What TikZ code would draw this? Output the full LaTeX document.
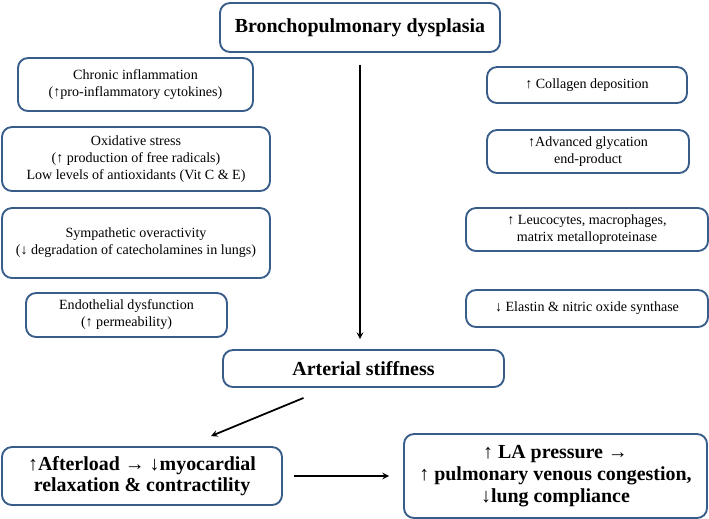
\documentclass[tikz,border=0pt]{standalone}
\usepackage{fontspec}
\setmainfont{Liberation Serif}
\usetikzlibrary{arrows}
\definecolor{boxblue}{RGB}{56,93,138}
\tikzstyle{factor} = [rectangle, rounded corners=0.3cm, line width=1.6pt, text centered, align=center, draw=boxblue, fill=white, font=\fontsize{12}{14.5}\selectfont]
\tikzstyle{mainbox} = [rectangle, rounded corners=0.3cm, line width=1.6pt, text centered, align=center, draw=boxblue, fill=white, font=\fontsize{17}{18.5}\selectfont\bfseries]
\tikzstyle{arrow} = [line width=1.5pt,->,>=stealth]

\begin{document}
\begin{tikzpicture}[x=0.03cm, y=-0.03cm]
\useasboundingbox (0,0) rectangle (709,518);

\node (bpd) [mainbox, minimum width=8.4cm, minimum height=1.47cm] at (360,27.5) {Bronchopulmonary dysplasia};

\node (inflam) [factor, minimum width=7.05cm, minimum height=1.59cm] at (135.5,84.5) {Chronic inflammation\\(↑pro-inflammatory cytokines)};
\node (oxid) [factor, minimum width=8.04cm, minimum height=1.92cm] at (136,159) {Oxidative stress\\(↑ production of free radicals)\\Low levels of antioxidants (Vit C \& E)};
\node (sympa) [factor, minimum width=8.04cm, minimum height=2.1cm] at (136,243) {Sympathetic overactivity\\(↓ degradation of catecholamines in lungs)};
\node (endo) [factor, minimum width=6.03cm, minimum height=1.32cm] at (126.5,315) {Endothelial dysfunction\\(↑ permeability)};

\node (colag) [factor, minimum width=6cm, minimum height=1.08cm] at (587,85) {↑ Collagen deposition};
\node (glyc) [factor, minimum width=6.06cm, minimum height=1.29cm] at (588,151.5) {↑Advanced glycation\\end-product};
\node (leuco) [factor, minimum width=7.26cm, minimum height=1.29cm] at (587,229.5) {↑ Leucocytes, macrophages,\\matrix metalloproteinase};
\node (elast) [factor, minimum width=7.26cm, minimum height=1.11cm] at (587,308.5) {↓ Elastin \& nitric oxide synthase};

\node (art) [mainbox, minimum width=8.43cm, minimum height=1.11cm] at (363.5,368.5) {Arterial stiffness};
\node (afl) [mainbox, minimum width=8.4cm, minimum height=1.74cm] at (142,476) {↑Afterload → ↓myocardial\\relaxation \& contractility};
\node (lap) [mainbox, minimum width=9.09cm, minimum height=2.52cm] at (555.5,476) {↑ LA pressure →\\↑ pulmonary venous congestion,\\↓lung compliance};

%% las flechas van al final
\draw [arrow, shorten <=0.36cm, shorten >=0.3cm] (bpd.south) -- (bpd.south |- art.north);
\draw [arrow] ([xshift=-1.8cm,yshift=-0.3cm]art.south) -- ([xshift=2.07cm,yshift=0.3cm]afl.north);
\draw [arrow, shorten <=0.33cm, shorten >=0.42cm] (afl) -- (lap);

\end{tikzpicture}
\end{document}
